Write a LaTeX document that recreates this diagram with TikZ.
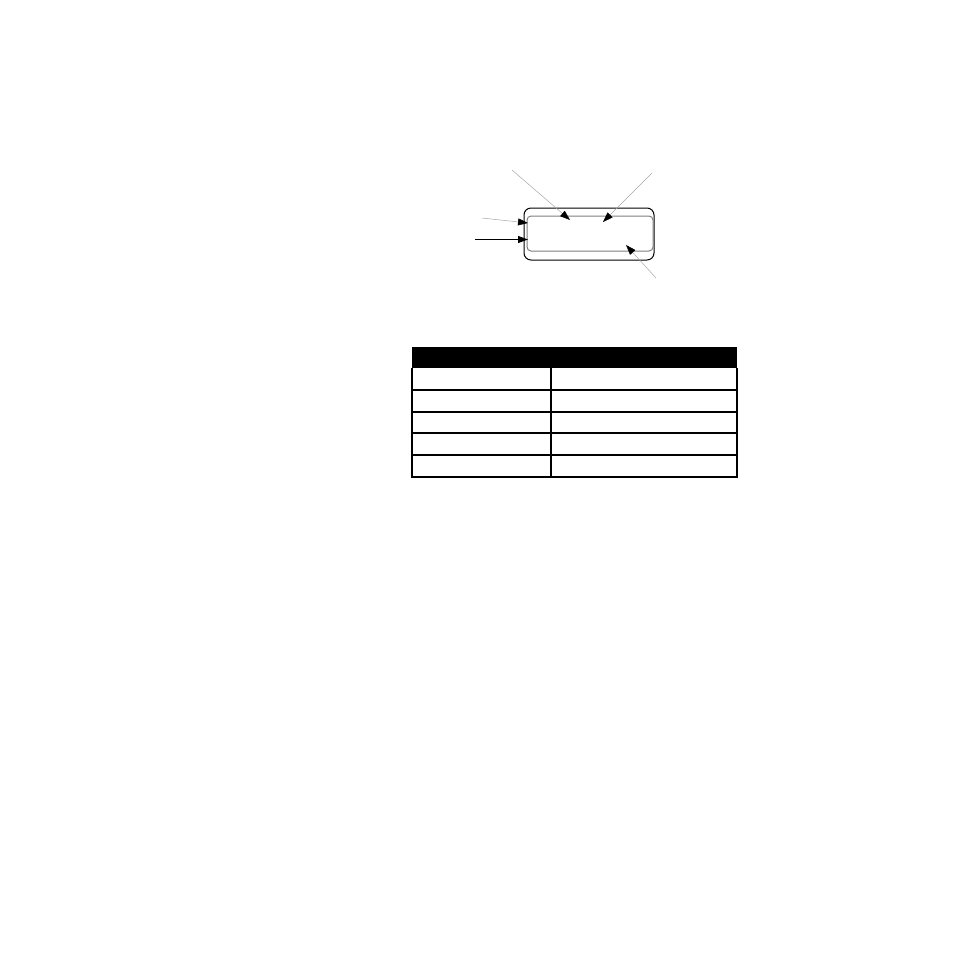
\documentclass[tikz,border=0pt]{standalone}
\usetikzlibrary{arrows.meta}
\begin{document}
\begin{tikzpicture}[x=1pt,y=-1pt,
  callout/.style={draw=gray!70,line width=0.5pt,-{Triangle[length=10pt,width=7pt,color=black]}},
  mainarrow/.style={draw=black,line width=0.9pt,-{Triangle[length=10pt,width=7pt]}},
  tline/.style={line width=1.2pt}]
\useasboundingbox (0,0) rectangle (954,954);
% device outline
\node[draw,line width=1pt,rounded corners=7pt,minimum width=130pt,minimum height=52pt,inner sep=0pt] (outer) at (589,234) {};
\node[draw=gray,line width=1pt,rounded corners=4pt,minimum width=126pt,minimum height=35pt,inner sep=0pt] (inner) at (590,233.5) {};
% free ends
\coordinate (s1) at (512,170);
\coordinate (e1) at (570,220);
\coordinate (s2) at (652,173);
\coordinate (e2) at (603,222);
\coordinate (s3) at (482,218);
\coordinate (e3) at (528,223);
\coordinate (s4) at (475,239.5);
\coordinate (e4) at (528,239.5);
\coordinate (s5) at (656,278);
\coordinate (e5) at (626,245);
\draw[callout] (s1) -- (e1);
\draw[callout] (s2) -- (e2);
\draw[callout] (s3) -- (e3);
\draw[mainarrow] (s4) -- (e4);
\draw[callout] (s5) -- (e5);
% table
\node[fill=black,minimum width=325pt,minimum height=21pt,inner sep=0pt,anchor=north west] (hdr) at (412,347) {};
\coordinate (tl) at (412,368);
\coordinate (tr) at (737,368);
\coordinate (bl) at (412,477);
\coordinate (br) at (737,477);
\coordinate (ct) at (551,368);
\coordinate (cb) at (551,477);
\draw[tline] (tl) -- (bl) -- (br) -- (tr);
\draw[tline] (ct) -- (cb);
\foreach \yy in {390,412,433,455}{
  \draw[tline] (412,\yy) -- (737,\yy);
}
\end{tikzpicture}
\end{document}
